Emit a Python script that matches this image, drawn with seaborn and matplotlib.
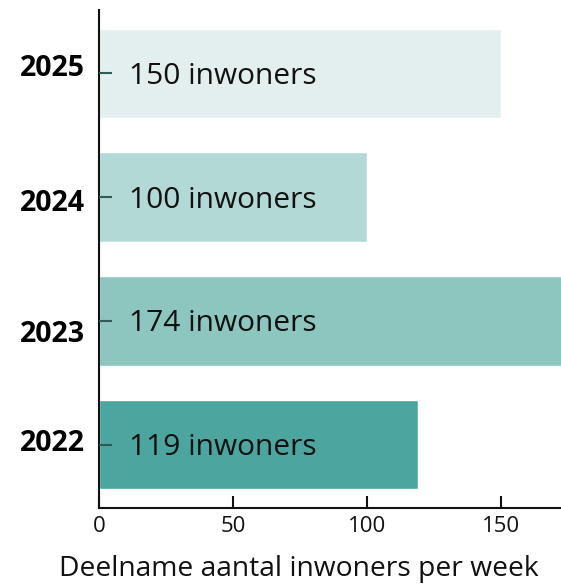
import matplotlib
matplotlib.use("Agg")
import matplotlib.pyplot as plt
import matplotlib.transforms as mtransforms
import seaborn as sns
import pandas as pd

years = ["2025", "2024", "2023", "2022"]
values = [150, 100, 174, 119]
colors = ["#e2efee", "#b2d9d6", "#8cc6bf", "#4ca59e"]
labels = [f"{v} inwoners" for v in values]
xlabel = "Deelname aantal inwoners per week"
xticks = [0, 50, 100, 150]

sns.set_style("white")
plt.rcParams["font.family"] = ["Open Sans", "DejaVu Sans"]

df = pd.DataFrame({"year": years, "value": values})

fig = plt.figure(figsize=(5.61, 5.85), dpi=100)
ax = fig.add_axes([0.1765, 0.1316, 0.8235, 0.8514])
sns.barplot(data=df, y="year", x="value", hue="year", palette=colors,
            order=years, hue_order=years, width=0.72, legend=False, ax=ax,
            saturation=1)
ax.set_axisbelow(False)

for i, (v, lab) in enumerate(zip(values, labels)):
    ax.annotate(lab, xy=(0, i), xytext=(30, -3), textcoords="offset pixels",
                va="center", ha="left", fontsize=21.5, color="#111111")

ax.set_xlim(0, 172.4)
ax.set_ylim(3.51, -0.51)
ax.set_xticks(xticks)
ax.set_xticklabels([str(t) for t in xticks], fontsize=16, color="#111111")
ax.set_yticks(range(len(years)))
ax.set_yticklabels(years, fontsize=20.5, fontweight="bold", color="black")
ax.tick_params(axis="y", left=True, direction="in", length=9, width=1.5,
               color="#2f5a56", pad=10)
ax.tick_params(axis="x", bottom=True, direction="in", length=9, width=1.5,
               color="#111111", pad=6)

# small vertical shifts of the year labels as in the reference (pixels, down positive)
label_shift = [-8, 3, 10, -5]
for lbl, sh in zip(ax.get_yticklabels(), label_shift):
    lbl.set_transform(lbl.get_transform() +
                      mtransforms.ScaledTranslation(0, -sh / 100, fig.dpi_scale_trans))

ax.set_xlabel(xlabel, fontsize=20.3, color="#111111")
ax.xaxis.set_label_coords(0.433, -0.094)
ax.set_ylabel("")
for s in ["top", "right"]:
    ax.spines[s].set_visible(False)
for s in ["left", "bottom"]:
    ax.spines[s].set_color("#111111")
    ax.spines[s].set_linewidth(1.5)

fig.savefig("out.png", dpi=100)
